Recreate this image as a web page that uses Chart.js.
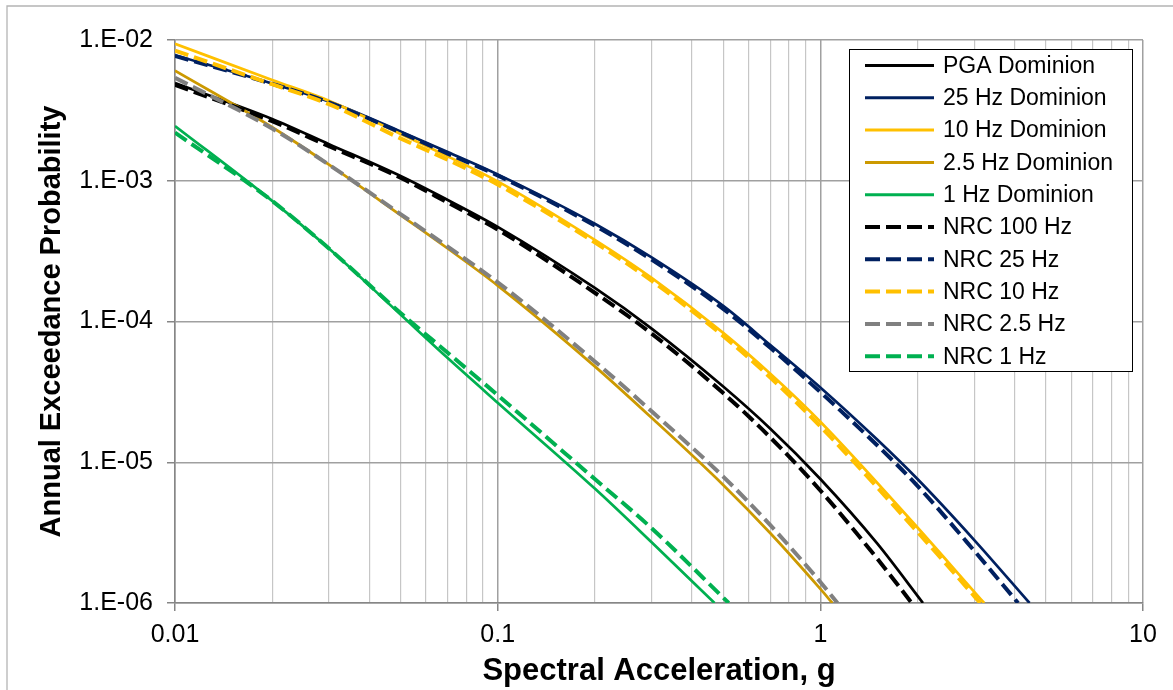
<!DOCTYPE html>
<html>
<head>
<meta charset="utf-8">
<script src="https://cdn.jsdelivr.net/npm/chart.js@4.4.1/dist/chart.umd.min.js"></script>
<style>
  html, body { margin: 0; padding: 0; background: #fff; }
  #wrap { width: 1173px; height: 690px; position: relative; }
</style>
</head>
<body>
<div id="wrap"><canvas id="hazardChart" width="1173" height="690"></canvas></div>
<script>
// axis ticks
const xTickValues = [0.01, 0.1, 1, 10];
const xTickLabels = ['0.01', '0.1', '1', '10'];
const xMinorSteps = [2, 3, 4, 5, 6, 7, 8, 9];
const yTickValues = [1e-6, 1e-5, 1e-4, 1e-3, 1e-2];
const yTickLabels = ['1.E-06', '1.E-05', '1.E-04', '1.E-03', '1.E-02'];

// series: [spectral acceleration g, annual exceedance probability]
const pgaDominion = [[0.01, 4.95e-3], [0.02, 2.75e-3], [0.03, 1.82e-3], [0.05, 1.08e-3], [0.07, 7.3e-4], [0.1, 4.7e-4], [0.2, 1.73e-4], [0.3, 8.9e-5], [0.5, 3.45e-5], [0.7, 1.73e-5], [1.0, 7.6e-6], [1.5, 2.65e-6], [2.08, 1e-6]];
const hz25Dominion = [[0.01, 7.8e-3], [0.02, 4.9e-3], [0.03, 3.65e-3], [0.05, 2.24e-3], [0.07, 1.6e-3], [0.1, 1.11e-3], [0.2, 4.95e-4], [0.3, 2.85e-4], [0.5, 1.29e-4], [0.7, 6.8e-5], [1.0, 3.4e-5], [1.5, 1.45e-5], [2.0, 7.6e-6], [3.0, 2.8e-6], [4.45, 1e-6]];
const hz10Dominion = [[0.01, 9.4e-3], [0.02, 5.2e-3], [0.03, 3.7e-3], [0.05, 2.15e-3], [0.07, 1.49e-3], [0.1, 9.9e-4], [0.2, 3.8e-4], [0.3, 2.04e-4], [0.5, 8.3e-5], [0.7, 4.25e-5], [1.0, 1.94e-5], [2.0, 3.44e-6], [3.0, 1.2e-6], [3.22, 1e-6]];
const hz25dDominion = [[0.01, 6.05e-3], [0.02, 2.4e-3], [0.03, 1.3e-3], [0.05, 5.7e-4], [0.07, 3.3e-4], [0.1, 1.8e-4], [0.2, 4.8e-5], [0.3, 2.07e-5], [0.5, 6.9e-6], [0.7, 3.13e-6], [1.0, 1.26e-6], [1.09, 1e-6]];
const hz1Dominion = [[0.01, 2.45e-3], [0.02, 7.2e-4], [0.03, 3.3e-4], [0.05, 1.12e-4], [0.07, 5.5e-5], [0.1, 2.65e-5], [0.2, 6.5e-6], [0.3, 2.7e-6], [0.47, 1e-6]];
const nrc100 = [[0.01, 4.8e-3], [0.02, 2.65e-3], [0.03, 1.76e-3], [0.05, 1.05e-3], [0.07, 7.0e-4], [0.1, 4.5e-4], [0.2, 1.6e-4], [0.3, 8.2e-5], [0.5, 3.1e-5], [0.7, 1.5e-5], [1.0, 6.3e-6], [1.5, 2.07e-6], [1.92, 1e-6]];
const nrc25 = [[0.01, 7.7e-3], [0.02, 4.88e-3], [0.03, 3.6e-3], [0.05, 2.2e-3], [0.07, 1.56e-3], [0.1, 1.09e-3], [0.2, 4.8e-4], [0.3, 2.75e-4], [0.5, 1.23e-4], [0.7, 6.5e-5], [1.0, 3.15e-5], [1.5, 1.32e-5], [2.0, 6.8e-6], [3.0, 2.35e-6], [4.1, 1e-6]];
const nrc10 = [[0.01, 8.4e-3], [0.02, 4.85e-3], [0.03, 3.5e-3], [0.05, 2.0e-3], [0.07, 1.41e-3], [0.1, 9.4e-4], [0.2, 3.65e-4], [0.3, 1.95e-4], [0.5, 7.9e-5], [0.7, 4.0e-5], [1.0, 1.8e-5], [2.0, 3.2e-6], [3.0, 1.12e-6], [3.13, 1e-6]];
const nrc2p5 = [[0.01, 5.4e-3], [0.02, 2.35e-3], [0.03, 1.3e-3], [0.05, 5.8e-4], [0.07, 3.4e-4], [0.1, 1.9e-4], [0.2, 5.2e-5], [0.3, 2.3e-5], [0.5, 7.9e-6], [0.7, 3.57e-6], [1.0, 1.41e-6], [1.13, 1e-6]];
const nrc1 = [[0.01, 2.2e-3], [0.02, 7.2e-4], [0.03, 3.3e-4], [0.05, 1.15e-4], [0.07, 6.0e-5], [0.1, 3.0e-5], [0.2, 7.6e-6], [0.3, 3.4e-6], [0.52, 1e-6]];

const seriesNames = ['PGA Dominion', '25 Hz Dominion', '10 Hz Dominion', '2.5 Hz Dominion', '1 Hz Dominion',
  'NRC 100 Hz', 'NRC 25 Hz', 'NRC 10 Hz', 'NRC 2.5 Hz', 'NRC 1 Hz'];
const seriesData = [pgaDominion, hz25Dominion, hz10Dominion, hz25dDominion, hz1Dominion,
  nrc100, nrc25, nrc10, nrc2p5, nrc1];
const seriesColors = ['#000000', '#002060', '#FFC000', '#CC9900', '#00B050',
  '#000000', '#002060', '#FFC000', '#808080', '#00B050'];
const seriesDashed = [false, false, false, false, false, true, true, true, true, true];

const FONT = "'Liberation Sans', Arial, sans-serif";

function isDecade(v) {
  if (!v) return false;
  const l = Math.log10(v);
  return Math.abs(l - Math.round(l)) < 1e-6;
}

const datasets = seriesNames.map((name, i) => ({
  label: name,
  data: seriesData[i].map(p => ({ x: p[0], y: p[1] })),
  borderColor: seriesColors[i],
  backgroundColor: seriesColors[i],
  borderWidth: seriesDashed[i] ? 4 : 2.7,
  borderDash: seriesDashed[i] ? [14, 6] : [],
  pointRadius: 0,
  fill: false,
  cubicInterpolationMode: 'monotone',
  order: seriesNames.length - 1 - i
}));

// white page, grey outer frame and boxed legend
const framePlugin = {
  id: 'frame',
  beforeDraw(chart) {
    const ctx = chart.ctx;
    ctx.save();
    ctx.fillStyle = '#fff';
    ctx.fillRect(0, 0, chart.width, chart.height);
    ctx.strokeStyle = '#b4b4b4';
    ctx.lineWidth = 1.3;
    ctx.beginPath();
    ctx.moveTo(7, chart.height);
    ctx.lineTo(7, 6);
    ctx.lineTo(chart.width, 6);
    ctx.stroke();
    ctx.restore();
  },
  afterDraw(chart) {
    const ctx = chart.ctx;
    const box = { x: 849.5, y: 49.5, w: 283, h: 322 };
    ctx.save();
    ctx.fillStyle = '#fff';
    ctx.fillRect(box.x, box.y, box.w, box.h);
    ctx.strokeStyle = '#000';
    ctx.lineWidth = 1;
    ctx.strokeRect(box.x, box.y, box.w, box.h);
    ctx.font = '23px ' + FONT;
    ctx.textBaseline = 'middle';
    ctx.textAlign = 'left';
    chart.data.datasets.forEach((ds, i) => {
      const y = 65.5 + i * 32.3;
      ctx.beginPath();
      ctx.strokeStyle = ds.borderColor;
      ctx.lineWidth = ds.borderDash.length ? 4 : 3;
      ctx.setLineDash(ds.borderDash.length ? [15, 6] : []);
      ctx.moveTo(865, y);
      ctx.lineTo(934, y);
      ctx.stroke();
      ctx.setLineDash([]);
      ctx.fillStyle = '#000';
      ctx.fillText(ds.label, 943, y + 1);
    });
    ctx.restore();
  }
};

new Chart(document.getElementById('hazardChart'), {
  type: 'line',
  data: { datasets },
  plugins: [framePlugin],
  options: {
    responsive: false,
    animation: false,
    layout: { padding: { top: 40, right: 30, bottom: 0, left: 0 } },
    plugins: { legend: { display: false }, tooltip: { enabled: false } },
    scales: {
      x: {
        type: 'logarithmic',
        position: 'bottom',
        min: 0.01,
        max: 10,
        afterBuildTicks: s => {
          const t = [];
          xTickValues.forEach((v, k) => {
            t.push({ value: v });
            if (k < xTickValues.length - 1) xMinorSteps.forEach(m => t.push({ value: v * m }));
          });
          s.ticks = t;
        },
        afterFit: s => { s.height = 87; },
        ticks: {
          autoSkip: false,
          maxRotation: 0,
          padding: 9,
          color: '#000',
          font: { family: FONT, size: 25 },
          callback: v => {
            const k = xTickValues.findIndex(t => Math.abs(t - v) / t < 1e-6);
            return k >= 0 ? xTickLabels[k] : '';
          }
        },
        grid: {
          color: c => isDecade(c.tick && c.tick.value) ? '#a0a0a0' : '#c6c6c6',
          lineWidth: c => isDecade(c.tick && c.tick.value) ? 1.5 : 1.2,
          tickColor: c => isDecade(c.tick && c.tick.value) ? '#868686' : 'rgba(0,0,0,0)',
          tickLength: 8
        },
        border: { color: '#868686', width: 1.5 },
        title: {
          display: true,
          text: 'Spectral Acceleration, g',
          color: '#000',
          font: { family: FONT, size: 31, weight: 'bold' },
          padding: { top: 0, bottom: 0 }
        }
      },
      y: {
        type: 'logarithmic',
        min: 1e-6,
        max: 1e-2,
        afterBuildTicks: s => { s.ticks = yTickValues.map(v => ({ value: v })); },
        afterFit: s => { s.width = 175; },
        ticks: {
          autoSkip: false,
          padding: 14,
          color: '#000',
          font: { family: FONT, size: 25 },
          callback: v => {
            const k = yTickValues.findIndex(t => Math.abs(t - v) / t < 1e-6);
            return k >= 0 ? yTickLabels[k] : '';
          }
        },
        grid: { color: '#a0a0a0', lineWidth: 1.5, tickColor: '#868686', tickLength: 8 },
        border: { color: '#868686', width: 1.5 },
        title: {
          display: true,
          text: 'Annual Exceedance Probability',
          color: '#000',
          font: { family: FONT, size: 29, weight: 'bold' },
          padding: { top: 35, bottom: 35 }
        }
      }
    }
  }
});
</script>
</body>
</html>
